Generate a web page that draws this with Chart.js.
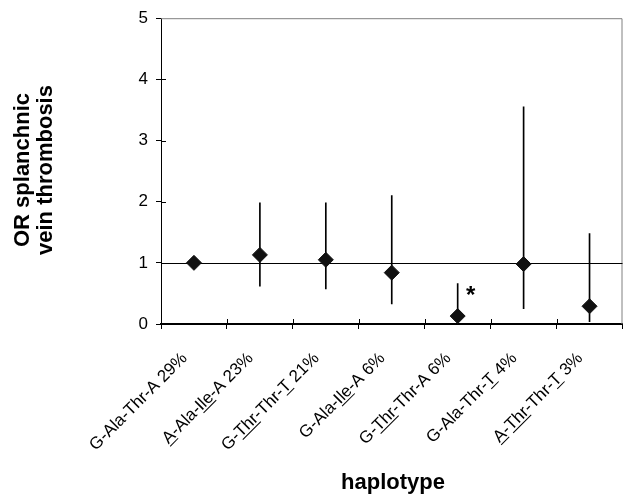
<!DOCTYPE html>
<html><head><meta charset="utf-8">
<script src="https://cdn.jsdelivr.net/npm/chart.js@4.4.1/dist/chart.umd.min.js"></script>
<style>html,body{margin:0;padding:0;background:#fff}#wrap{width:631px;height:498px}</style>
</head><body><div id="wrap"><canvas id="c" width="631" height="498"></canvas></div>
<script>
const haplotypes = ['G-Ala-Thr-A 29%','A-Ala-Ile-A 23%','G-Thr-Thr-T 21%','G-Ala-Ile-A 6%','G-Thr-Thr-A 6%','G-Ala-Thr-T 4%','A-Thr-Thr-T 3%'];
const underlinedParts = [[], [[0,1],[6,9]], [[2,5],[10,11]], [[6,9]], [[2,5]], [[10,11]], [[0,1],[2,5],[10,11]]];
const oddsRatio = [1.0, 1.13, 1.05, 0.84, 0.13, 0.98, 0.29];
const ciLower = [null, 0.62, 0.575, 0.33, 0.03, 0.25, 0.04];
const ciUpper = [null, 1.98, 1.98, 2.10, 0.66, 3.55, 1.48];
const significance = ['', '', '', '', '*', '', ''];
const referenceOR = 1;
const yMin = 0, yMax = 5, yStep = 1;
const yTitleLines = ['OR splanchnic', 'vein thrombosis'];
const xTitle = 'haplotype';

const FAMILY = "Arial, 'Liberation Sans', sans-serif";

const drawExtras = {
  id: 'extras',
  beforeDatasetsDraw(chart) {
    const {ctx, chartArea: a, scales: {x, y}} = chart;
    ctx.save();
    ctx.strokeStyle = '#808080'; ctx.lineWidth = 1;
    ctx.beginPath();
    ctx.moveTo(a.left, a.top + 0.5); ctx.lineTo(a.right - 0.5, a.top + 0.5); ctx.lineTo(a.right - 0.5, a.bottom);
    ctx.stroke();
    const yr = Math.round(y.getPixelForValue(referenceOR)) + 0.5;
    ctx.strokeStyle = '#000';
    ctx.beginPath(); ctx.moveTo(a.left, yr); ctx.lineTo(a.right, yr); ctx.stroke();
    ctx.beginPath();
    for (let v = yMin + yStep; v < yMax; v += yStep) {
      const py = Math.round(y.getPixelForValue(v)) + 0.5;
      ctx.moveTo(a.left, py); ctx.lineTo(a.left + 5, py);
    }
    for (let i = 1; i < haplotypes.length; i++) {
      const px = Math.round((x.getPixelForValue(i - 1) + x.getPixelForValue(i)) / 2) + 0.5;
      ctx.moveTo(px, a.bottom); ctx.lineTo(px, a.bottom - 5);
    }
    ctx.stroke();
    ctx.restore();
  },
  afterDraw(chart) {
    const {ctx, chartArea: a, scales: {x, y}} = chart;
    ctx.save();
    ctx.fillStyle = '#000'; ctx.strokeStyle = '#000';
    ctx.font = '17px ' + FAMILY;
    haplotypes.forEach((lab, i) => {
      const cx = x.getPixelForValue(i);
      const w = ctx.measureText(lab).width;
      ctx.save();
      ctx.translate(cx - 6, a.bottom + 35);
      ctx.rotate(-Math.PI / 4);
      ctx.textAlign = 'left'; ctx.textBaseline = 'alphabetic';
      ctx.fillText(lab, -w, 0);
      ctx.lineWidth = 1;
      underlinedParts[i].forEach(([s, e]) => {
        const x0 = -w + ctx.measureText(lab.slice(0, s)).width;
        const x1 = -w + ctx.measureText(lab.slice(0, e)).width;
        ctx.beginPath(); ctx.moveTo(x0, 2.5); ctx.lineTo(x1, 2.5); ctx.stroke();
      });
      ctx.restore();
    });
    ctx.font = 'bold 24px ' + FAMILY;
    ctx.textAlign = 'center'; ctx.textBaseline = 'alphabetic';
    significance.forEach((s, i) => {
      if (!s) return;
      const top = ciUpper[i] != null ? ciUpper[i] : oddsRatio[i];
      ctx.fillText(s, x.getPixelForValue(i) + 13, y.getPixelForValue(top) + 19);
    });
    ctx.font = 'bold 22px ' + FAMILY;
    ctx.textAlign = 'center';
    ctx.fillText(xTitle, 393, 489);
    const midY = 170;
    [29, 52].forEach((bx, k) => {
      ctx.save(); ctx.translate(bx, midY); ctx.rotate(-Math.PI / 2);
      ctx.fillText(yTitleLines[k], 0, 0);
      ctx.restore();
    });
    ctx.restore();
  }
};

new Chart(document.getElementById('c'), {
  type: 'bar',
  data: {
    labels: haplotypes,
    datasets: [
      {
        type: 'line', label: 'OR', data: oddsRatio, showLine: false, order: 1,
        pointStyle: 'rectRot', pointRadius: 7.5, pointBackgroundColor: '#111', pointBorderColor: '#111', pointBorderWidth: 1
      },
      {
        type: 'bar', label: '95% CI', order: 2,
        data: ciLower.map((l, i) => l == null ? null : [l, ciUpper[i]]),
        backgroundColor: '#000', borderWidth: 0, barThickness: 1
      }
    ]
  },
  options: {
    responsive: false, animation: false,
    layout: {padding: {top: 10, right: 4, left: 0, bottom: 0}},
    plugins: {legend: {display: false}, tooltip: {enabled: false}},
    scales: {
      x: {
        offset: true,
        grid: {offset: true, drawOnChartArea: false, tickLength: 5, color: '#000', lineWidth: 1},
        border: {color: '#000', width: 2},
        ticks: {display: false},
        afterFit(s) { s.height = 174; }
      },
      y: {
        min: yMin, max: yMax,
        ticks: {stepSize: yStep, font: {family: FAMILY, size: 17}, color: '#000', padding: 8},
        grid: {drawOnChartArea: false, tickLength: 5, color: '#000', lineWidth: 1},
        border: {color: '#000', width: 1},
        afterFit(s) { s.width = 161; }
      }
    }
  },
  plugins: [drawExtras]
});
</script>
</body></html>
